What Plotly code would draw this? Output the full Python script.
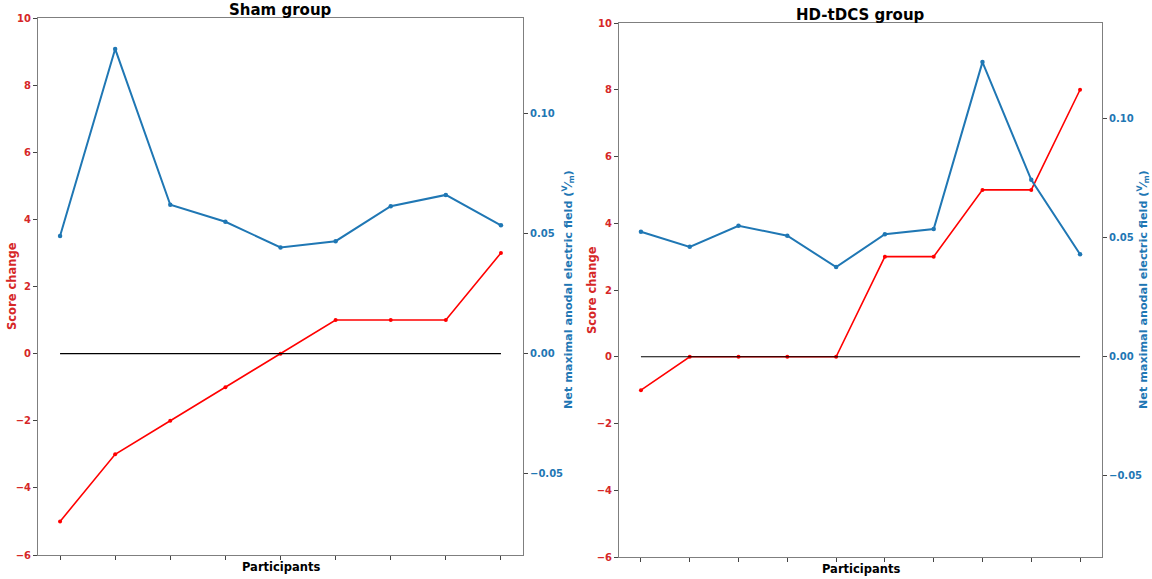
import plotly.graph_objects as go

# ---- data ----
sham_participants = list(range(9))
sham_score = [-5, -3, -2, -1, 0, 1, 1, 1, 3]
sham_field = [0.0491, 0.1271, 0.0621, 0.0550, 0.0443, 0.0469, 0.0615, 0.0662, 0.0535]

hd_participants = list(range(10))
hd_score = [-1, 0, 0, 0, 0, 3, 3, 5, 5, 8]
hd_field = [0.0524, 0.0461, 0.0549, 0.0508, 0.0376, 0.0514, 0.0536, 0.1236, 0.0742, 0.0430]

titles = ["Sham group", "HD-tDCS group"]
score_ticks = [-6, -4, -2, 0, 2, 4, 6, 8, 10]
field_ticks = [-0.05, 0.0, 0.05, 0.10]

RED = "#ff0000"
LRED = "#d62728"
BLUE = "#1f77b4"
FONT = "DejaVu Sans"
W, H = 1152, 579

fig = go.Figure()

panels = [
    (sham_participants, sham_score, sham_field, "x", "y", "y2"),
    (hd_participants, hd_score, hd_field, "x2", "y3", "y4"),
]
for xs, sc, fd, xa, ya, ya2 in panels:
    fig.add_trace(go.Scatter(x=xs, y=sc, mode="lines+markers", xaxis=xa, yaxis=ya,
                             line=dict(color=RED, width=1.6), marker=dict(size=4, color=RED),
                             showlegend=False))
    fig.add_trace(go.Scatter(x=[xs[0], xs[-1]], y=[0, 0], mode="lines", xaxis=xa, yaxis=ya,
                             line=dict(color="black", width=1.1), showlegend=False))
    fig.add_trace(go.Scatter(x=xs, y=fd, mode="lines+markers", xaxis=xa, yaxis=ya2,
                             line=dict(color=BLUE, width=2), marker=dict(size=4.5, color=BLUE),
                             showlegend=False))

spine = "#7f7f7f"
tickc = "#444444"

def xax(domain, n, anchor):
    return dict(domain=domain, anchor=anchor, range=[-0.05 * (n - 1), (n - 1) * 1.05],
                tickmode="array", tickvals=list(range(n)), showticklabels=False,
                ticks="outside", ticklen=4, tickwidth=1, tickcolor=tickc, showline=True,
                linecolor=spine, linewidth=1, mirror=True, showgrid=False, zeroline=False,
                automargin=False)

def yleft(domain, anchor):
    return dict(domain=domain, anchor=anchor, range=[-6, 10], tickmode="array",
                tickvals=score_ticks, ticks="outside", ticklen=4, tickwidth=1, tickcolor=tickc,
                showline=True, linecolor=spine, linewidth=1, showgrid=False, zeroline=False,
                automargin=False,
                tickfont=dict(family=FONT, size=10, color=LRED, weight="bold"))

def yright(overlay, anchor):
    return dict(overlaying=overlay, anchor=anchor, side="right", range=[-0.084, 0.14],
                tickmode="array", tickvals=field_ticks, tickformat=".2f", ticks="outside",
                ticklen=4, tickwidth=1, tickcolor=tickc, showline=True, linecolor=spine,
                linewidth=1, showgrid=False, zeroline=False, automargin=False,
                tickfont=dict(family=FONT, size=10, color=BLUE, weight="bold"))

xd1 = [38 / W, 523 / W]
xd2 = [619 / W, 1102 / W]
yd1 = [1 - 555 / H, 1 - 18 / H]
yd2 = [1 - 557 / H, 1 - 23 / H]

fig.update_layout(
    width=W, height=H, margin=dict(l=0, r=0, t=0, b=0, autoexpand=False),
    paper_bgcolor="white", plot_bgcolor="white",
    font=dict(family=FONT),
    xaxis=xax(xd1, len(sham_participants), "y"),
    xaxis2=xax(xd2, len(hd_participants), "y3"),
    yaxis=yleft(yd1, "x"),
    yaxis2=yright("y", "x"),
    yaxis3=yleft(yd2, "x2"),
    yaxis4=yright("y3", "x2"),
)

def ann(text, px, py, size, color, angle=0):
    fig.add_annotation(text=text, x=px / W, y=1 - py / H, xref="paper", yref="paper",
                       xanchor="center", yanchor="middle", showarrow=False, textangle=angle,
                       font=dict(family=FONT, size=size, color=color, weight="bold"))

field_title = "Net maximal anodal electric field (<sup>V</sup>⁄<sub>m</sub>)"

ann(titles[0], (38 + 523) / 2, 10, 15, "black")
ann(titles[1], (619 + 1102) / 2, 15, 15, "black")
ann("Participants", (38 + 523) / 2, 567, 11.5, "black")
ann("Participants", (619 + 1102) / 2, 569, 11.5, "black")
ann("Score change", 12, 286, 11.5, LRED, -90)
ann("Score change", 592, 290, 11.5, LRED, -90)
ann(field_title, 568, 290, 11.2, BLUE, -90)
ann(field_title, 1143, 290, 11.2, BLUE, -90)

fig.write_html(
    "out.html",
    config={"displayModeBar": False},
    post_script="document.body.style.margin='0';document.body.style.overflow='hidden';",
)
